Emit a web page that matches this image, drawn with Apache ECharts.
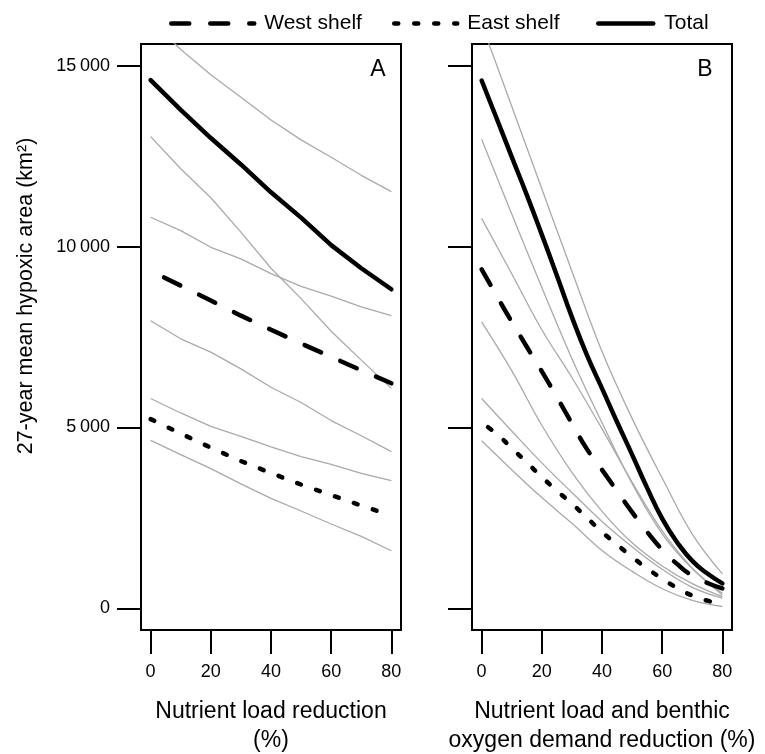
<!DOCTYPE html>
<html><head><meta charset="utf-8">
<script src="https://cdn.jsdelivr.net/npm/echarts@6/dist/echarts.min.js"></script>
<style>html,body{margin:0;padding:0;background:#fff}#c{width:765px;height:754px}</style>
</head><body><div id="c"></div>
<script>
// ---------- data ----------
const xTickValues = [0, 20, 40, 60, 80];
const yTickValues = [0, 5000, 10000, 15000];
const yTickLabels = ['0', '5\u2009000', '10\u2009000', '15\u2009000'];
const seriesNames = ['West shelf', 'East shelf', 'Total'];

// Panel A: nutrient load reduction (%)
const xA = [0, 10, 20, 30, 40, 50, 60, 70, 80];
const aTotal = [14600, 13780, 13000, 12270, 11500, 10800, 10040, 9400, 8820];
const aWest  = [9330, 8920, 8510, 8090, 7700, 7320, 6950, 6580, 6220];
const aEast  = [5230, 4830, 4440, 4070, 3740, 3420, 3130, 2840, 2560];
const aGray1 = [16250, 15450, 14750, 14130, 13500, 12950, 12470, 11970, 11520];
const aGray2 = [13040, 12150, 11350, 10400, 9400, 8560, 7660, 6860, 6080];
const aGray3 = [10810, 10440, 9980, 9660, 9250, 8900, 8630, 8330, 8090];
const aGray4 = [7950, 7450, 7080, 6620, 6110, 5690, 5190, 4770, 4330];
const aGray5 = [5800, 5400, 5030, 4750, 4460, 4190, 3980, 3730, 3530];
const aGray6 = [4640, 4250, 3860, 3440, 3040, 2690, 2330, 1990, 1590];

// Panel B: nutrient load and benthic oxygen demand reduction (%)
const xB5  = [0, 5, 10, 15, 20, 25, 30, 35, 40, 45, 50, 55, 60, 65, 70, 75, 80];
const xB10 = [0, 10, 20, 30, 40, 50, 60, 70, 80];
const bTotal = [14590, 13540, 12480, 11430, 10330, 9200, 8050, 7000, 6080, 5150, 4250, 3330, 2480, 1820, 1310, 960, 690];
const bWest  = [9370, 8640, 7920, 7230, 6550, 5840, 5110, 4400, 3830, 3240, 2660, 2110, 1620, 1220, 900, 700, 550];
const bEast  = [5130, 4820, 4430, 4030, 3630, 3250, 2890, 2500, 2110, 1760, 1420, 1100, 820, 560, 350, 210, 110];
const bGray1 = [16150, 13880, 11600, 9320, 7100, 5250, 3600, 2050, 950];
const bGray2 = [12970, 10900, 8870, 6900, 5130, 3450, 2060, 1100, 415];
const bGray3 = [10780, 9250, 7700, 6380, 4960, 3490, 2140, 1110, 370];
const bGray4 = [7920, 6570, 5060, 3760, 2680, 1810, 1170, 680, 320];
const bGray5 = [5800, 4900, 4020, 3200, 2400, 1700, 1080, 580, 280];
const bGray6 = [4630, 3830, 3060, 2350, 1600, 1020, 540, 220, 50];

// ---------- chart ----------
const FONT = '"Liberation Sans", Arial, Helvetica, sans-serif';
const pairs = (xs, ys) => xs.map((x, i) => [x, ys[i]]);
const GRAY = '#a9a9a9';
const WEST_DASH = [18, 21];
const EAST_DASH = [4, 16];
const DASHES = { 'West shelf': WEST_DASH, 'East shelf': EAST_DASH, 'Total': 'solid' };

function grayLine(gi, xs, ys, smooth) {
  return { type: 'line', xAxisIndex: gi, yAxisIndex: gi, data: pairs(xs, ys), symbol: 'none',
    smooth: smooth, silent: true, z: 2, lineStyle: { color: GRAY, width: 1.3 } };
}
function blackLine(gi, name, xs, ys, smooth, offset) {
  return { type: 'line', name: name, xAxisIndex: gi, yAxisIndex: gi, data: pairs(xs, ys), symbol: 'none',
    smooth: smooth, silent: true, z: 5, itemStyle: { color: '#000' },
    lineStyle: { color: '#000', width: 4.5, type: DASHES[name], cap: 'round', join: 'round', dashOffset: offset || 0 } };
}

function xAx(gi, name) {
  return { type: 'value', gridIndex: gi, min: -3.2, max: 83.2,
    axisLine: { show: false, onZero: false }, splitLine: { show: false },
    axisTick: { show: true, inside: false, customValues: xTickValues, length: 24, lineStyle: { color: '#000', width: 2 } },
    axisLabel: { customValues: xTickValues, fontSize: 18, color: '#000', margin: 33, fontFamily: FONT },
    name: name, nameLocation: 'middle', nameGap: 67,
    nameTextStyle: { fontSize: 23, lineHeight: 29, color: '#000', fontFamily: FONT } };
}
function yAx(gi, showLabels) {
  return { type: 'value', gridIndex: gi, min: -600, max: 15600,
    axisLine: { show: false, onZero: false }, splitLine: { show: false },
    axisTick: { show: true, inside: false, customValues: yTickValues, length: 24, lineStyle: { color: '#000', width: 2 } },
    axisLabel: { show: showLabels, customValues: yTickValues, fontSize: 18, color: '#000', margin: 31, fontFamily: FONT,
      formatter: v => { const i = yTickValues.indexOf(v); return i >= 0 ? yTickLabels[i] : ''; } } };
}
const gridBase = { top: 44, width: 260, height: 586, show: true, borderColor: '#000', borderWidth: 2,
  backgroundColor: 'transparent', containLabel: false, outerBoundsMode: 'none' };

function legendFor(name, left, width, pad) {
  return { data: [name], left: left, top: 8, itemWidth: width, itemHeight: 14, selectedMode: false,
    itemStyle: { opacity: 0 },
    lineStyle: { color: '#000', width: 4.5, type: DASHES[name], cap: 'round', inactiveWidth: 4.5 },
    textStyle: { fontSize: 21, color: '#000', fontFamily: FONT, padding: [0, 0, 0, pad] } };
}

const option = {
  animation: false,
  backgroundColor: '#fff',
  grid: [Object.assign({ left: 141 }, gridBase), Object.assign({ left: 472 }, gridBase)],
  xAxis: [xAx(0, 'Nutrient load reduction\n(%)'), xAx(1, 'Nutrient load and benthic\noxygen demand reduction (%)')],
  yAxis: [yAx(0, true), yAx(1, false)],
  legend: [
    legendFor(seriesNames[0], 149, 98, 5),
    legendFor(seriesNames[1], 387, 63, 5),
    legendFor(seriesNames[2], 591, 55, 6)
  ],
  graphic: [
    { type: 'text', x: 26, y: 296, rotation: Math.PI / 2,
      style: { text: '27-year mean hypoxic area (km\u00b2)', fontSize: 21.5, fontFamily: FONT, fill: '#000', align: 'center', verticalAlign: 'middle' } },
    { type: 'text', x: 378, y: 70, style: { text: 'A', fontSize: 23, fontFamily: FONT, fill: '#000', align: 'center', verticalAlign: 'middle' } },
    { type: 'text', x: 705, y: 70, style: { text: 'B', fontSize: 23, fontFamily: FONT, fill: '#000', align: 'center', verticalAlign: 'middle' } }
  ],
  series: [
    grayLine(0, xA, aGray1, false), grayLine(0, xA, aGray2, false), grayLine(0, xA, aGray3, false),
    grayLine(0, xA, aGray4, false), grayLine(0, xA, aGray5, false), grayLine(0, xA, aGray6, false),
    blackLine(0, seriesNames[0], xA, aWest, false, 24),
    blackLine(0, seriesNames[1], xA, aEast, false, 0),
    blackLine(0, seriesNames[2], xA, aTotal, false, 0),
    grayLine(1, xB10, bGray1, 0.4), grayLine(1, xB10, bGray2, 0.4), grayLine(1, xB10, bGray3, 0.4),
    grayLine(1, xB10, bGray4, 0.4), grayLine(1, xB10, bGray5, 0.4), grayLine(1, xB10, bGray6, 0.4),
    blackLine(1, seriesNames[0], xB5, bWest, 0.5, 0),
    blackLine(1, seriesNames[1], xB5, bEast, 0.5, 12),
    blackLine(1, seriesNames[2], xB5, bTotal, 0.5, 0)
  ]
};
const chart = echarts.init(document.getElementById('c'));
chart.setOption(option);
</script>
</body></html>
